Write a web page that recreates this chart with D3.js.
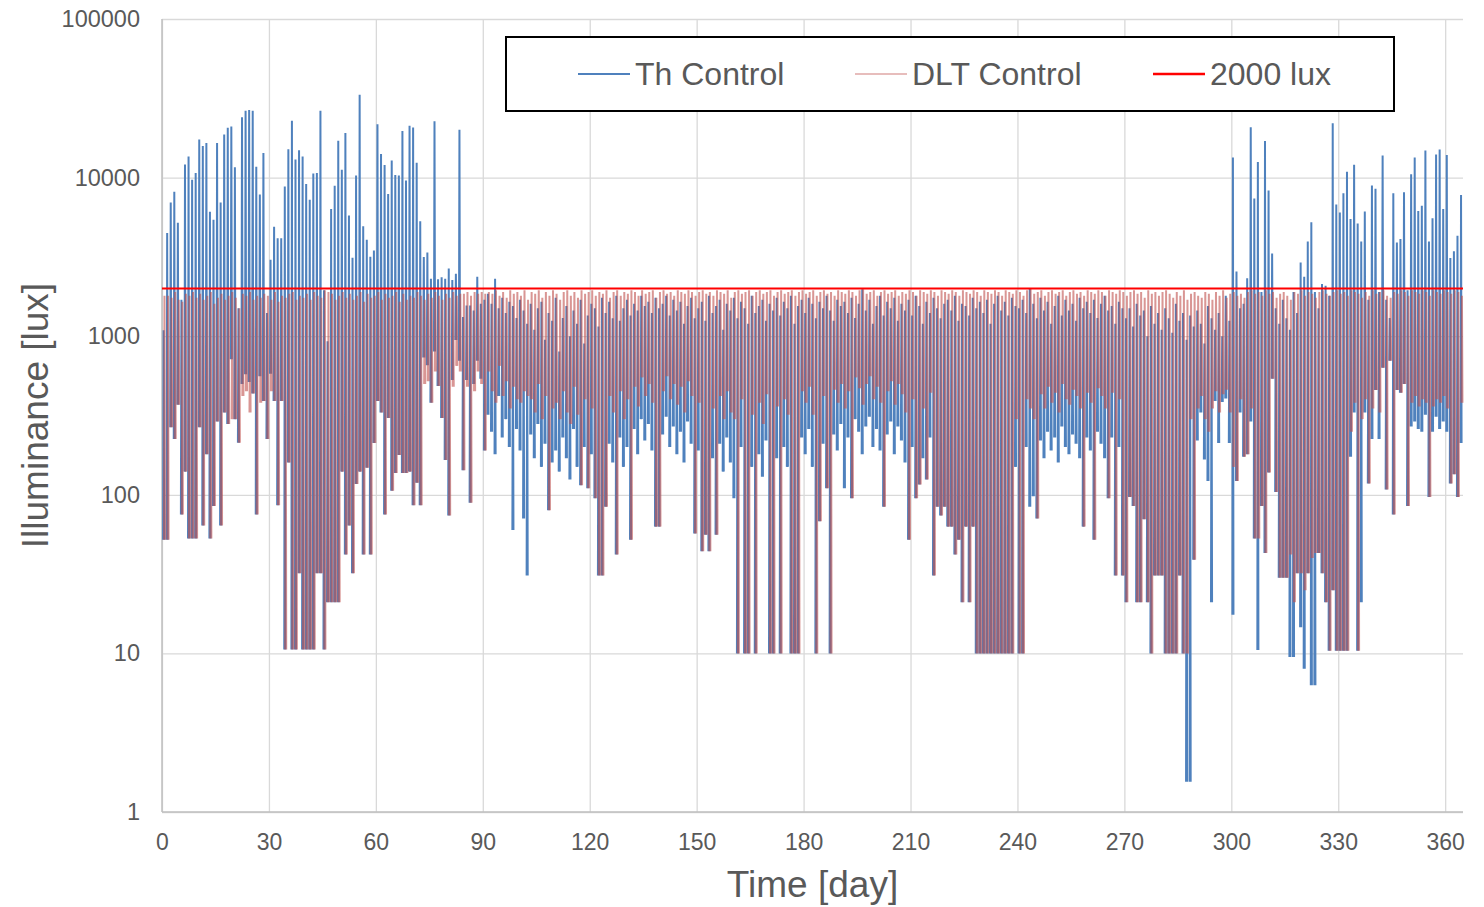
<!DOCTYPE html>
<html>
<head>
<meta charset="utf-8">
<script src="https://cdn.jsdelivr.net/npm/d3@7"></script>
<style>
    body { margin: 0; background: #fff; }
    svg text { font-family: "Liberation Sans", Arial, sans-serif; fill: #595959; }
</style>
</head>
<body>
<div id="chart"></div>
<script>
// axis ticks
var xTicks = [0, 30, 60, 90, 120, 150, 180, 210, 240, 270, 300, 330, 360];
var yTicks = [1, 10, 100, 1000, 10000, 100000];

// series names and threshold
var seriesNames = ["Th Control", "DLT Control", "2000 lux"];
var threshold = 2000;

// Th Control: daily peak and daily low (lux), day 0..364
var thHigh = [
    1090, 4470, 6970, 8150, 5200, 1700, 12100, 13600, 9700, 10700,
    17400, 15800, 16500, 6100, 5430, 16500, 6970, 18700, 20600, 21000,
    11600, 1500, 24000, 26400, 26700, 26400, 11700, 7830, 14300, 1400,
    3030, 4900, 4140, 4140, 8800, 15100, 22800, 13000, 14900, 13600,
    9100, 7250, 10600, 10700, 26400, 1950, 930, 6340, 8900, 17100,
    11200, 19100, 5770, 3120, 10300, 33300, 4940, 4050, 3170, 3470,
    21700, 14100, 12000, 7880, 12800, 10400, 10300, 19700, 9600, 21200,
    20700, 12400, 5300, 3160, 3370, 2300, 22700, 2290, 2350, 2300,
    2670, 2260, 2480, 20000, 1320, 1560, 1560, 1450, 2370, 1600,
    1700, 1850, 1600, 2300, 1500, 1750, 1400, 1650, 1550, 1300,
    1700, 1450, 1200, 1600, 1100, 1500, 1650, 950, 1400, 1250,
    1750, 800, 1300, 1550, 1000, 1450, 1200, 1700, 900, 1350,
    1600, 1500, 1150, 1750, 1400, 1650, 1300, 1800, 1250, 1500,
    1700, 1350, 1600, 1450, 1800, 1550, 1650, 1400, 1750, 1500,
    1600, 1800, 1350, 1700, 1450, 1650, 1200, 1550, 1750, 1300,
    1500, 1650, 1250, 1800, 1400, 1550, 1700, 1100, 1600, 1450,
    1750, 1300, 1650, 1500, 1200, 1800, 1400, 1550, 1700, 1250,
    1600, 1450, 1750, 1350, 1650, 1500, 1800, 1200, 1550, 1700,
    1400, 1750, 1600, 1300, 1650, 1500, 1800, 1450, 1250, 1700,
    1550, 1650, 1400, 1750, 1300, 1600, 1980, 1450, 1700, 1200,
    1550, 1800, 1350, 1650, 1500, 1750, 1250, 1600, 1450, 1700,
    1350, 1800, 1550, 1200, 1650, 1400, 1750, 1500, 1300, 1600,
    1700, 1450, 1800, 1250, 1600, 1550, 1350, 1750, 1500, 1650,
    1400, 1700, 1200, 1600, 1800, 1450, 1650, 1350, 1750, 1550,
    1500, 1700, 1400, 1990, 1600, 1300, 1750, 1450, 1650, 1200,
    1550, 1800, 1350, 1700, 1450, 1600, 1250, 1750, 1500, 1650,
    1400, 1700, 1300, 1600, 1800, 1450, 1550, 1200, 1650, 1500,
    1300, 1500, 1150, 1600, 1350, 1450, 1000, 1550, 1200, 1400,
    1100, 1500, 1300, 1050, 1600, 1250, 1400, 950, 1350, 1150,
    1450, 1200, 900, 1550, 1300, 1100, 1400, 1000, 1800, 1250,
    13400, 2560, 1500, 1600, 2320, 20800, 7370, 12550, 1900, 17000,
    8280, 3320, 1500, 1200, 1700, 1300, 1100, 1900, 1400, 2920,
    2370, 3950, 5230, 1900, 1500, 2130, 2080, 1800, 22000, 6770,
    6030, 7970, 10900, 5480, 12070, 5130, 3960, 6110, 1700, 8900,
    8500, 1900, 13800, 1700, 1300, 7970, 3900, 4100, 8070, 1950,
    10500, 13400, 6150, 6650, 14800, 3950, 5540, 14000, 15050, 6350,
    13900, 3110, 3430, 4300, 7770
];
var thLow = [
    52, 52, 267, 225, 370, 75, 140, 53, 53, 53,
    267, 64, 180, 53, 85, 290, 64, 330, 280, 716,
    300, 213, 500, 575, 515, 435, 75, 560, 390, 225,
    580, 390, 86, 390, 10.6, 160, 10.6, 10.6, 32, 10.6,
    10.6, 10.6, 10.6, 32, 32, 10.6, 21, 21, 21, 21,
    140, 42, 64, 32, 117, 140, 42, 148, 42, 212,
    390, 330, 75, 305, 106, 137, 178, 137, 137, 140,
    86, 119, 86, 735, 657, 380, 800, 486, 305, 166,
    74, 530, 946, 700, 143, 530, 89, 500, 700, 540,
    190, 320, 250, 180, 420, 230, 300, 200, 60, 260,
    190, 71, 31, 240, 170, 280, 150, 210, 80, 160,
    190, 140, 230, 170, 125, 260, 150, 115, 200, 110,
    180, 95, 31, 31, 84, 210, 160, 42, 230, 150,
    200, 52, 260, 180, 300, 220, 280, 190, 63, 63,
    240, 310, 200, 270, 180, 250, 160, 290, 210, 57,
    190, 44, 56, 44, 170, 56, 210, 140, 230, 160,
    95, 10, 200, 10, 10, 150, 10, 180, 130, 220,
    10, 10, 170, 10, 200, 150, 10, 10, 10, 230,
    180, 260, 150, 10, 68, 210, 110, 10, 240, 190,
    280, 110, 230, 95, 300, 250, 180, 270, 310, 200,
    260, 190, 84, 240, 290, 180, 270, 220, 160, 52,
    200, 95, 116, 170, 125, 230, 31, 84, 74, 84,
    63, 63, 42, 52, 21, 63, 21, 63, 10, 10,
    10, 10, 10, 10, 10, 10, 10, 10, 10, 150,
    10, 10, 200, 84, 98, 71, 220, 170, 250, 190,
    230, 160, 270, 200, 180, 240, 210, 170, 63, 230,
    190, 52, 250, 210, 170, 95, 230, 31, 200, 31,
    21, 97, 85, 21, 21, 70, 21, 10, 31, 31,
    31, 10, 10, 10, 10, 31, 10, 1.55, 1.55, 39,
    220, 330, 167, 122, 21, 390, 212, 385, 405, 212,
    17.5, 122, 330, 174, 180, 290, 53, 10.5, 85, 43,
    138, 540, 104, 30, 30, 30, 9.5, 9.5, 32, 14.6,
    8, 32, 6.3, 6.3, 43, 32, 21, 10.4, 25, 10.4,
    10.4, 10.4, 10.4, 174, 330, 10.4, 21, 330, 118, 225,
    458, 225, 632, 108, 700, 75, 458, 440, 500, 85,
    270, 290, 260, 250, 320, 97, 250, 310, 260, 290,
    250, 118, 135, 97, 212
];

// DLT Control: daily peak and daily low (lux), day 0..364
var dltHigh = [
    1800, 1800, 1750, 1900, 1700, 1650, 1850, 1800, 1900, 1750,
    1850, 1700, 1800, 1900, 1600, 1750, 1850, 1700, 1800, 1900,
    1750, 1500, 1850, 1800, 1900, 1700, 1800, 1750, 1850, 1800,
    1700, 1900, 1650, 1800, 1750, 1850, 1900, 1700, 1800, 1750,
    1850, 1700, 1900, 1800, 1750, 1950, 1900, 1850, 1700, 1800,
    1900, 1750, 1850, 1700, 1800, 1900, 1650, 1850, 1750, 1800,
    1900, 1700, 1850, 1750, 1800, 1900, 1650, 1850, 1700, 1800,
    1750, 1900, 1800, 1700, 1850, 1750, 1900, 1800, 1700, 1850,
    1750, 1900, 1800, 1850, 1850, 1900, 1800, 1900, 1850, 1900,
    1850, 1900, 1850, 1950, 1800, 1900, 1750, 1950, 1850, 1900,
    1800, 1950, 1700, 1900, 1850, 1950, 1750, 1900, 1800, 1950,
    1850, 1700, 1900, 1950, 1800, 1900, 1750, 1950, 1850, 1900,
    1950, 1800, 1900, 1850, 1950, 1750, 1900, 1950, 1800, 1900,
    1850, 1950, 1900, 1800, 1950, 1850, 1900, 1950, 1750, 1900,
    1950, 1850, 1900, 1800, 1950, 1900, 1850, 1950, 1900, 1800,
    1900, 1950, 1850, 1900, 1800, 1950, 1900, 1850, 1950, 1750,
    1900, 1950, 1850, 1900, 1950, 1800, 1900, 1950, 1850, 1900,
    1950, 1800, 1900, 1950, 1850, 1900, 1950, 1800, 1900, 1950,
    1850, 1900, 1950, 1800, 1900, 1950, 1850, 1900, 1800, 1950,
    1900, 1850, 1950, 1900, 1800, 1950, 1980, 1850, 1900, 1950,
    1800, 1900, 1950, 1850, 1900, 1950, 1800, 1900, 1850, 1950,
    1900, 1800, 1950, 1900, 1850, 1950, 1900, 1800, 1950, 1900,
    1850, 1950, 1900, 1800, 1950, 1900, 1850, 1950, 1900, 1800,
    1950, 1900, 1850, 1950, 1900, 1800, 1950, 1900, 1850, 1950,
    1900, 1800, 1950, 1990, 1850, 1900, 1950, 1800, 1900, 1950,
    1850, 1900, 1950, 1800, 1900, 1950, 1850, 1900, 1800, 1950,
    1900, 1850, 1950, 1900, 1800, 1950, 1900, 1850, 1950, 1900,
    1800, 1900, 1950, 1850, 1900, 1750, 1950, 1850, 1900, 1800,
    1900, 1950, 1850, 1750, 1900, 1800, 1950, 1700, 1850, 1900,
    1800, 1750, 1900, 1850, 1700, 1900, 1800, 1950, 1750, 1850,
    1900, 1800, 1850, 1750, 1900, 1950, 1850, 1900, 1800, 1950,
    1850, 1900, 1750, 1850, 1900, 1800, 1700, 1900, 1850, 1950,
    1800, 1900, 1850, 1750, 1900, 1950, 1850, 1800, 1900, 1950,
    1850, 1900, 1800, 1950, 1900, 1850, 1750, 1900, 1800, 1950,
    1850, 1900, 1950, 1800, 1750, 1900, 1850, 1950, 1900, 1800,
    1950, 1900, 1850, 1950, 1900, 1800, 1950, 1900, 1850, 1950,
    1900, 1850, 1950, 1900, 1800
];
var dltLow = [
    52, 52, 267, 225, 370, 75, 140, 53, 53, 53,
    267, 64, 180, 53, 85, 290, 64, 330, 280, 300,
    300, 213, 420, 450, 330, 435, 75, 380, 390, 225,
    450, 390, 86, 390, 10.6, 160, 10.6, 10.6, 32, 10.6,
    10.6, 10.6, 10.6, 32, 32, 10.6, 21, 21, 21, 21,
    140, 42, 64, 32, 117, 140, 42, 148, 42, 212,
    390, 330, 75, 305, 106, 137, 178, 137, 137, 140,
    86, 119, 86, 500, 520, 380, 600, 486, 305, 166,
    74, 480, 650, 600, 143, 480, 89, 450, 600, 500,
    190, 600, 450, 380, 650, 420, 520, 350, 480, 400,
    380, 450, 420, 400, 330, 500, 300, 420, 80, 350,
    380, 300, 450, 330, 280, 480, 320, 115, 400, 110,
    350, 95, 31, 31, 84, 420, 330, 42, 450, 300,
    400, 52, 480, 360, 550, 420, 500, 380, 63, 63,
    450, 560, 400, 500, 370, 480, 330, 520, 420, 57,
    380, 44, 56, 44, 350, 56, 420, 300, 450, 330,
    300, 10, 400, 10, 10, 320, 10, 380, 280, 430,
    10, 10, 360, 10, 400, 320, 10, 10, 10, 450,
    380, 480, 320, 10, 68, 420, 110, 10, 460, 380,
    500, 350, 450, 95, 550, 470, 370, 500, 560, 400,
    480, 380, 84, 450, 520, 370, 500, 430, 330, 52,
    400, 95, 116, 350, 125, 440, 31, 84, 74, 84,
    63, 63, 42, 52, 21, 63, 21, 63, 10, 10,
    10, 10, 10, 10, 10, 10, 10, 10, 10, 300,
    10, 10, 400, 350, 300, 71, 430, 350, 480, 380,
    440, 330, 500, 400, 370, 460, 420, 350, 63, 440,
    380, 52, 470, 420, 350, 95, 440, 31, 400, 31,
    21, 97, 85, 21, 21, 70, 21, 10, 31, 31,
    31, 10, 10, 10, 10, 31, 10, 10, 300, 39,
    350, 420, 300, 250, 350, 450, 330, 430, 460, 330,
    150, 122, 400, 174, 180, 350, 53, 53, 85, 43,
    138, 540, 104, 30, 30, 30, 42, 21, 32, 32,
    25, 32, 40, 43, 43, 32, 21, 10.4, 25, 10.4,
    10.4, 10.4, 10.4, 250, 380, 10.4, 300, 400, 118, 350,
    458, 330, 632, 108, 700, 75, 458, 440, 500, 85,
    380, 420, 360, 400, 380, 97, 360, 400, 380, 420,
    350, 118, 135, 97, 380
];

var width = 1484;
var height = 907;
var margin = { top: 19, right: 21, bottom: 95, left: 162 };

var svg = d3.select("#chart")
    .append("svg")
    .attr("width", width)
    .attr("height", height);

var x = d3.scaleLinear()
    .domain([0, 365])
    .range([margin.left, width - margin.right]);

var y = d3.scaleLog()
    .domain([1, 100000])
    .range([height - margin.bottom, margin.top]);

// gridlines + tick labels
var xAxis = svg.append("g")
    .attr("transform", "translate(0," + (height - margin.bottom) + ")")
    .call(d3.axisBottom(x)
        .tickValues(xTicks)
        .tickSize(-(height - margin.bottom - margin.top))
        .tickPadding(22)
        .tickFormat(d3.format("d")));
xAxis.select(".domain").remove();
xAxis.selectAll("line").attr("stroke", "#d9d9d9").attr("stroke-width", 1.3);
xAxis.selectAll("text").style("font-size", "23px");

var yAxis = svg.append("g")
    .attr("transform", "translate(" + margin.left + ",0)")
    .call(d3.axisLeft(y)
        .tickValues(yTicks)
        .tickSize(-(width - margin.left - margin.right))
        .tickPadding(22)
        .tickFormat(d3.format("d")));
yAxis.select(".domain").remove();
yAxis.selectAll("line").attr("stroke", "#d9d9d9").attr("stroke-width", 1.3);
yAxis.selectAll("text").style("font-size", "23.5px");

// axis lines
svg.append("line")
    .attr("x1", margin.left).attr("x2", width - margin.right)
    .attr("y1", y(1)).attr("y2", y(1))
    .attr("stroke", "#bfbfbf").attr("stroke-width", 1.5);
svg.append("line")
    .attr("x1", margin.left).attr("x2", margin.left)
    .attr("y1", y(1)).attr("y2", y(100000))
    .attr("stroke", "#bfbfbf").attr("stroke-width", 1.5);

// each day: rise from the low to the peak and fall back, then a gap (null)
function dailyStrokes(lows, highs, offset) {
    var pts = [];
    for (var d = 0; d < lows.length; d++) {
        pts.push([d + offset - 0.15, lows[d]]);
        pts.push([d + offset, highs[d]]);
        pts.push([d + offset + 0.15, lows[d]]);
        pts.push(null);
    }
    return pts;
}

var line = d3.line()
    .defined(function (d) { return d !== null; })
    .x(function (d) { return x(d[0]); })
    .y(function (d) { return y(d[1]); });

svg.append("path")
    .datum(dailyStrokes(thLow, thHigh, 0.45))
    .attr("d", line)
    .attr("fill", "none")
    .attr("stroke", "#4f81bd")
    .attr("stroke-width", 2);

svg.append("path")
    .datum(dailyStrokes(dltLow, dltHigh, 0.7))
    .attr("d", line)
    .attr("fill", "none")
    .attr("stroke", "#c0504d")
    .attr("stroke-opacity", 0.6)
    .attr("stroke-width", 2);

svg.append("line")
    .attr("x1", x(0)).attr("x2", x(365))
    .attr("y1", y(threshold)).attr("y2", y(threshold))
    .attr("stroke", "#ff0000")
    .attr("stroke-width", 2);

// legend
var legend = svg.append("g");
legend.append("rect")
    .attr("x", 506).attr("y", 37)
    .attr("width", 888).attr("height", 74)
    .attr("fill", "#fff")
    .attr("stroke", "#000")
    .attr("stroke-width", 2);

var legendItems = [
    { name: seriesNames[0], x: 578, color: "#4f81bd", opacity: 1, w: 2 },
    { name: seriesNames[1], x: 855, color: "#c0504d", opacity: 0.5, w: 1.5 },
    { name: seriesNames[2], x: 1153, color: "#ff0000", opacity: 1, w: 2.5 }
];
legendItems.forEach(function (it) {
    legend.append("line")
        .attr("x1", it.x).attr("x2", it.x + 52)
        .attr("y1", 74).attr("y2", 74)
        .attr("stroke", it.color)
        .attr("stroke-opacity", it.opacity)
        .attr("stroke-width", it.w);
    legend.append("text")
        .attr("x", it.x + 57)
        .attr("y", 85)
        .style("font-size", "32px")
        .text(it.name);
});

// axis titles
svg.append("text")
    .attr("x", x(182.5))
    .attr("y", 897)
    .attr("text-anchor", "middle")
    .style("font-size", "37px")
    .text("Time [day]");

svg.append("text")
    .attr("transform", "translate(48," + y(316) + ") rotate(-90)")
    .attr("text-anchor", "middle")
    .style("font-size", "37px")
    .text("Illuminance [lux]");
</script>
</body>
</html>
